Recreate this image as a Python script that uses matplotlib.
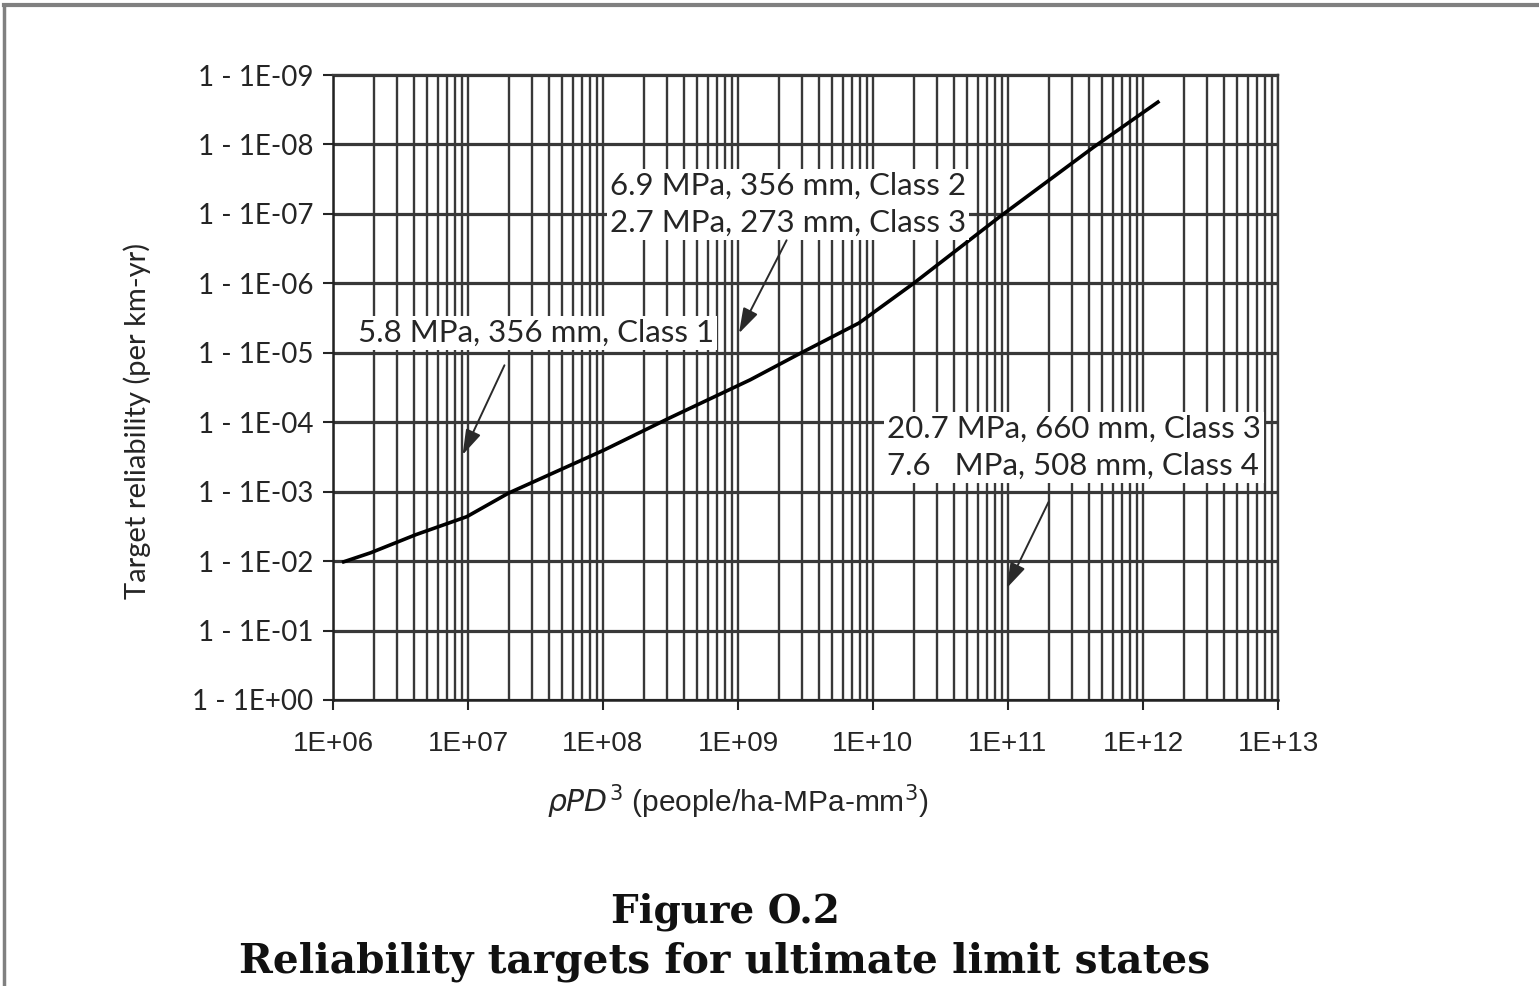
import matplotlib
matplotlib.use("Agg")
import matplotlib.pyplot as plt
from matplotlib.lines import Line2D

# ---- data ----
x_values = [1.2e6, 1.9e6, 4.1e6, 9.8e6, 2.0e7, 1.02e8, 3.1e8, 1.23e9, 2.75e9,
            7.9e9, 2.0e10, 8.7e10, 4.3e11, 1.29e12]
# exponent k meaning reliability = 1 - 1E-k
y_values = [1.99, 2.12, 2.38, 2.64, 2.98, 3.60, 4.06, 4.61, 4.97,
            5.43, 6.00, 6.96, 7.96, 8.61]

x_ticks = [1e6, 1e7, 1e8, 1e9, 1e10, 1e11, 1e12, 1e13]
x_tick_labels = ["1E+06", "1E+07", "1E+08", "1E+09", "1E+10", "1E+11", "1E+12", "1E+13"]
y_ticks = [0, 1, 2, 3, 4, 5, 6, 7, 8, 9]
y_tick_labels = ["1 - 1E+00", "1 - 1E-01", "1 - 1E-02", "1 - 1E-03", "1 - 1E-04",
                 "1 - 1E-05", "1 - 1E-06", "1 - 1E-07", "1 - 1E-08", "1 - 1E-09"]

annotations = [
    # text, text anchor (x, y), arrow tail (x, y), arrow tip (x, y)
    ("5.8 MPa, 356 mm, Class 1", (10**6.185, 5.285), (10**7.27, 4.82), (10**6.96, 3.53)),
    ("6.9 MPa, 356 mm, Class 2\n2.7 MPa, 273 mm, Class 3", (10**8.052, 7.14), (10**9.36, 6.62), (10**9.007, 5.28)),
    ("20.7 MPa, 660 mm, Class 3\n7.6   MPa, 508 mm, Class 4", (10**10.104, 3.64), (10**11.30, 2.85), (10**10.99, 1.61)),
]

SANS = ["Lato", "DejaVu Sans"]
NARROW = ["Liberation Sans", "DejaVu Sans"]
SERIF = ["DejaVu Serif"]
TXT = "#252525"

fig = plt.figure(figsize=(15.39, 9.86), dpi=100)
fig.patch.set_facecolor("white")

L, R, T, B = 333, 1278, 75, 700
ax = fig.add_axes([L/1539, 1-B/986, (R-L)/1539, (B-T)/986])
ax.set_xscale("log")
ax.set_xlim(1e6, 1e13)
ax.set_ylim(0, 9)

grid_color = "#383838"
ax.grid(True, which="both", axis="x", color=grid_color, lw=1.7)
ax.grid(True, which="major", axis="y", color=grid_color, lw=2.3)
ax.set_axisbelow(True)

ax.plot(x_values, y_values, color="black", lw=2.6, zorder=3)

ax.set_xticks(x_ticks)
ax.set_xticklabels(x_tick_labels, family=NARROW, fontsize=20, color=TXT)
ax.set_yticks(y_ticks)
ax.set_yticklabels(y_tick_labels, family=SANS, fontsize=20, color=TXT)
ax.tick_params(axis="x", which="minor", length=0)
ax.tick_params(axis="x", which="major", direction="out", length=7, width=1.5, pad=15, color=TXT)
ax.tick_params(axis="y", which="major", direction="out", length=7, width=1.5, pad=7, color=TXT)

for s in ["top", "right"]:
    ax.spines[s].set_color(grid_color)
    ax.spines[s].set_linewidth(1.7)
for s in ["left", "bottom"]:
    ax.spines[s].set_color("#222222")
    ax.spines[s].set_linewidth(1.8)

fig.text(137/1539, 1-421/986, "Target reliability (per km-yr)", family=SANS, fontsize=21,
         color=TXT, rotation=90, ha="center", va="center")
fig.text(738/1539, 1-802/986, r"$\it{\rho PD}^{3}$ (people/ha-MPa-mm$^{3}$)", family=NARROW,
         fontsize=21.5, color=TXT, ha="center", va="center")

for text, tpos, tail, tip in annotations:
    ax.text(tpos[0], tpos[1], text, family=SANS, fontsize=22.5, color=TXT,
            ha="left", va="center", linespacing=1.4, zorder=4,
            bbox=dict(fc="white", ec="none", pad=2))
    ax.annotate("", xy=tip, xytext=tail, zorder=5,
                arrowprops=dict(arrowstyle="-|>,head_width=0.22,head_length=0.7",
                                color="#2a2a2a", lw=1.4,
                                mutation_scale=22, shrinkA=0, shrinkB=0))

fig.text(725/1539, 1-912/986, "Figure O.2", family=SERIF,
         fontweight="bold", fontsize=28, ha="center", va="center", color="#111111")
fig.text(725/1539, 1-962/986, "Reliability targets for ultimate limit states",
         family=SERIF, fontweight="bold", fontsize=29.3,
         ha="center", va="center", color="#111111")

# page border lines (top and left)
fig.add_artist(Line2D([4/1539, 1.0], [1-5/986, 1-5/986], color="#808080", lw=3, transform=fig.transFigure))
fig.add_artist(Line2D([4/1539, 4/1539], [0.0, 1-5/986], color="#808080", lw=2.5, transform=fig.transFigure))

fig.savefig("out.png", dpi=100)
